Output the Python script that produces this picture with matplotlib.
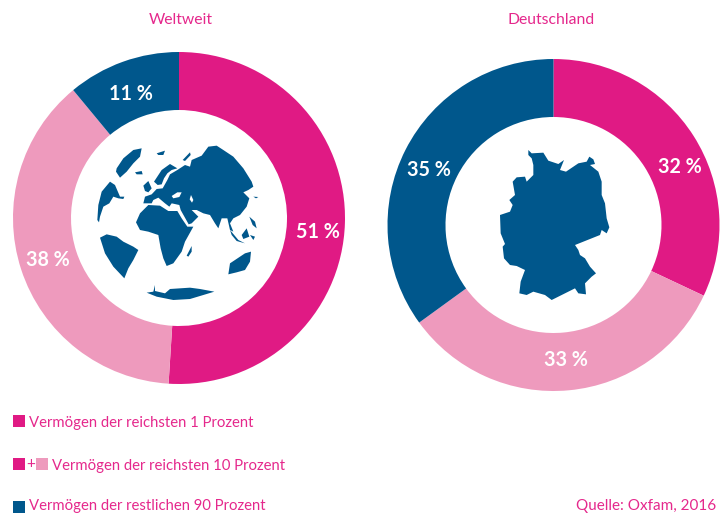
"""Vermoegensverteilung weltweit und in Deutschland, two donuts with map shapes."""

import matplotlib.pyplot as plt
from matplotlib.patches import Polygon, Rectangle

W, H = 724, 513

PINK = "#E01A84"
LIGHT = "#EE9ABD"
BLUE = "#00578C"
TEXT = "#E5288C"

WORLD_VALUES = [51, 38, 11]
GERMANY_VALUES = [32, 33, 35]
WORLD_LABELS = ["51 %", "38 %", "11 %"]
GERMANY_LABELS = ["32 %", "33 %", "35 %"]
TITLES = ["Weltweit", "Deutschland"]
LEGEND_LABELS = [
    "Vermögen der reichsten 1 Prozent",
    "Vermögen der reichsten 10 Prozent",
    "Vermögen der restlichen 90 Prozent",
]
SOURCE = "Quelle: Oxfam, 2016"

GLOBE_LAND = [
    [(80, 100), (100, 70), (130, 45), (155, 40), (150, 65), (130, 85), (110, 110), (90, 128), (78, 110)],
    [(135, 112), (155, 108), (158, 118), (140, 118)],
    [(200, 55), (225, 47), (220, 60), (205, 60)],
    [(278, 75), (300, 52), (302, 60), (285, 78)],
    [(22, 255), (25, 210), (35, 170), (60, 140), (75, 150), (90, 185), (103, 185), (100, 192),
     (85, 190), (70, 185), (58, 205), (40, 215), (30, 245), (27, 262)],
    [(160, 152), (175, 138), (185, 160), (175, 172), (165, 168)],
    # Scandinavia
    [(192, 140), (215, 105), (240, 87), (262, 100), (245, 105), (232, 115), (222, 130), (215, 148), (203, 150)],
    # Eurasia
    [(160, 205), (165, 185), (185, 178), (200, 162), (218, 160), (232, 135), (240, 118), (262, 105),
     (285, 90), (300, 95), (305, 75), (335, 62), (355, 35), (380, 32), (400, 45), (430, 65), (460, 100),
     (485, 140), (490, 155), (475, 165), (460, 172), (478, 190), (470, 215), (450, 240), (430, 250),
     (420, 265), (430, 290), (420, 285), (412, 250), (395, 250), (385, 280), (375, 265), (360, 240),
     (340, 235), (320, 225), (305, 225), (325, 245), (305, 265), (296, 268), (272, 225), (268, 210),
     (245, 205), (238, 215), (225, 205), (205, 188), (190, 195), (185, 205)],
    # Africa
    [(138, 262), (150, 235), (175, 210), (210, 212), (235, 228), (262, 228), (275, 250), (292, 275),
     (310, 275), (285, 320), (275, 350), (250, 385), (230, 393), (220, 370), (212, 340), (205, 300),
     (175, 290), (150, 285)],
    # South America
    [(30, 308), (50, 298), (80, 305), (100, 320), (130, 335), (145, 345), (130, 375), (115, 400),
     (103, 430), (70, 395), (45, 355)],
    [(290, 362), (305, 333), (305, 350), (295, 365)],
    # Australia
    [(415, 418), (420, 385), (450, 365), (465, 355), (483, 350), (480, 380), (465, 405), (440, 412)],
    # Antarctica
    [(170, 473), (190, 470), (195, 450), (195, 468), (225, 475), (240, 462), (300, 458), (330, 462),
     (373, 470), (340, 480), (300, 492), (250, 495), (200, 485)],
    [(420, 285), (445, 315), (465, 325), (440, 318), (425, 300)],
    [(455, 300), (470, 280), (478, 305), (460, 312)],
    [(478, 245), (495, 260), (500, 280), (488, 270)],
    [(480, 300), (495, 305), (490, 315)],
    [(490, 185), (505, 186), (498, 190)],
]
GLOBE_WATER = [
    [(245, 183), (262, 172), (275, 172), (268, 186), (250, 190)],
    [(303, 180), (310, 195), (306, 203), (299, 193)],
]
GERMANY_OUTLINE = [
    (115, 30), (125, 40), (160, 38), (175, 62), (205, 72), (222, 60), (210, 90), (228, 95), (265, 70),
    (290, 65), (298, 50), (310, 58), (315, 72), (300, 75), (325, 95), (335, 125), (335, 165), (345, 190),
    (350, 235), (358, 262), (350, 280), (335, 270), (330, 285), (255, 315), (265, 330), (270, 345),
    (285, 355), (300, 380), (318, 400), (305, 410), (285, 430), (288, 463), (265, 460), (255, 445),
    (215, 465), (185, 480), (165, 465), (130, 455), (110, 465), (88, 460), (92, 425), (105, 390),
    (80, 378), (60, 375), (42, 355), (38, 320), (45, 312), (32, 280), (30, 225), (60, 215), (68, 195),
    (58, 180), (75, 165), (68, 125), (80, 112), (105, 110), (110, 125), (130, 105), (130, 75), (125, 55),
    (115, 45),
]

plt.rcParams["font.family"] = ["Lato", "DejaVu Sans"]


def flip(y):
    return H - y


def draw_donut(ax, center, values, labels, colors, title, title_x):
    ax.pie(
        values,
        colors=colors,
        center=(center[0], flip(center[1])),
        radius=166,
        startangle=90,
        counterclock=False,
        wedgeprops={"width": 58, "linewidth": 0},
        labels=labels,
        labeldistance=None,
        frame=True,
    )
    ax.text(title_x, flip(20.5), title, color=TEXT, fontsize=11.3, ha="center", va="center")


def draw_crop(ax, shape, x0, y0, color):
    pts = [(x0 + x / 3, flip(y0 + y / 3)) for x, y in shape]
    ax.add_patch(Polygon(pts, closed=True, facecolor=color, edgecolor="none", zorder=3))


def swatch(ax, x, y, color):
    ax.add_patch(Rectangle((x, flip(y + 12)), 12, 12, facecolor=color, edgecolor="none"))


def main():
    fig = plt.figure(figsize=(W / 100, H / 100), dpi=100, facecolor="white")
    ax = fig.add_axes([0, 0, 1, 1])

    colors = [PINK, LIGHT, BLUE]
    draw_donut(ax, (179, 218), WORLD_VALUES, WORLD_LABELS, colors, TITLES[0], 181)
    draw_donut(ax, (553.5, 225), GERMANY_VALUES, GERMANY_LABELS, colors, TITLES[1], 551)

    ax.set_xlim(0, W)
    ax.set_ylim(0, H)
    ax.set_aspect("equal")
    ax.axis("off")

    for shape in GLOBE_LAND:
        draw_crop(ax, shape, 90, 135, BLUE)
    for shape in GLOBE_WATER:
        draw_crop(ax, shape, 90, 135, "white")
    draw_crop(ax, GERMANY_OUTLINE, 490, 140, BLUE)

    value_pos = [(318, 232), (48, 260), (131, 94)]
    for (x, y), label in zip(value_pos, WORLD_LABELS):
        ax.text(x, flip(y), label, color="white", fontsize=14.2, fontweight="bold", ha="center", va="center")
    value_pos = [(680, 167), (566, 360), (429, 170)]
    for (x, y), label in zip(value_pos, GERMANY_LABELS):
        ax.text(x, flip(y), label, color="white", fontsize=14.2, fontweight="bold", ha="center", va="center")

    swatch(ax, 13, 415, PINK)
    swatch(ax, 13, 458, PINK)
    swatch(ax, 36, 458, LIGHT)
    swatch(ax, 13, 501, BLUE)
    ax.text(31, flip(464), "+", color=TEXT, fontsize=11, ha="center", va="center")
    ax.text(29, flip(423), LEGEND_LABELS[0], color=TEXT, fontsize=10.75, va="center")
    ax.text(52, flip(466), LEGEND_LABELS[1], color=TEXT, fontsize=10.75, va="center")
    ax.text(29, flip(506), LEGEND_LABELS[2], color=TEXT, fontsize=10.75, va="center")
    ax.text(716, flip(506), SOURCE, color=TEXT, fontsize=11, ha="right", va="center")

    fig.savefig("out.png", dpi=100)
    plt.close(fig)


if __name__ == "__main__":
    main()
